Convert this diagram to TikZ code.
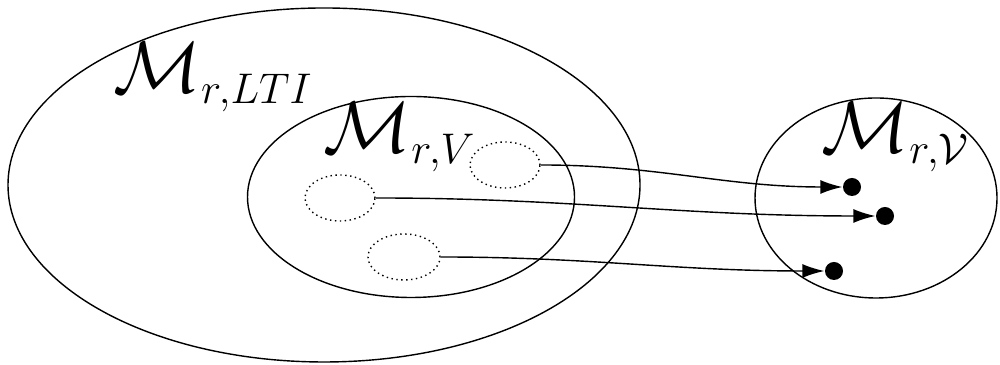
\RequirePackage{fix-cm}
\documentclass[tikz,border=0pt]{standalone}
\usepackage{amsmath}
\usepackage{tikz}
\usepgflibrary{arrows}
\usetikzlibrary{positioning,shapes.geometric,arrows.meta}
\DeclareMathSizes{20.74}{20.74}{12.2}{10}

\begin{document}
\begin{tikzpicture}[>={Latex[length=2.2mm,width=1.4mm]}]
  \useasboundingbox (0, 0) rectangle (10, 3.65);
  \tikzset{
    set/.style={draw, ellipse, inner sep=0pt},
    subset/.style={draw, densely dotted, ellipse, inner sep=0pt, minimum width=0.7cm, minimum height=0.46cm},
    pt/.style={fill, circle, inner sep=0pt, minimum size=0.18cm},
    lbl/.style={font=\huge, anchor=base west, inner sep=0pt}
  }
  \node[set, minimum width=6.32cm, minimum height=3.54cm] (lti) at (3.24, 1.80) {};
  \node[set, minimum width=3.27cm, minimum height=2.01cm] (mv) at (4.11, 1.68) {};
  \node[set, minimum width=2.42cm, minimum height=2.00cm] (img) at (8.76, 1.67) {};
  \node[subset] (sa) at (5.05, 2.00) {};
  \node[subset] (sb) at (3.40, 1.67) {};
  \node[subset, minimum width=0.72cm] (sc) at (4.04, 1.08) {};
  \node[pt] (pa) at (8.52, 1.78) {};
  \node[pt] (pb) at (8.85, 1.49) {};
  \node[pt] (pc) at (8.34, 0.94) {};
  \node[lbl] (llti) at (1.13, 2.72) {$\mathcal{M}_{r,LTI}$};
  \node[lbl] (lmv) at (3.23, 2.12) {$\mathcal{M}_{r,V}$};
  \node[lbl] (limg) at (8.21, 2.12) {$\mathcal{M}_{r,\mathcal{V}}$};
  \draw[->] (sa.east) to[out=0, in=180] (pa.west);
  \draw[->] (sb.east) to[out=0, in=180] (pb.west);
  \draw[->] (sc.east) to[out=0, in=180] (pc.west);
\end{tikzpicture}
\end{document}
